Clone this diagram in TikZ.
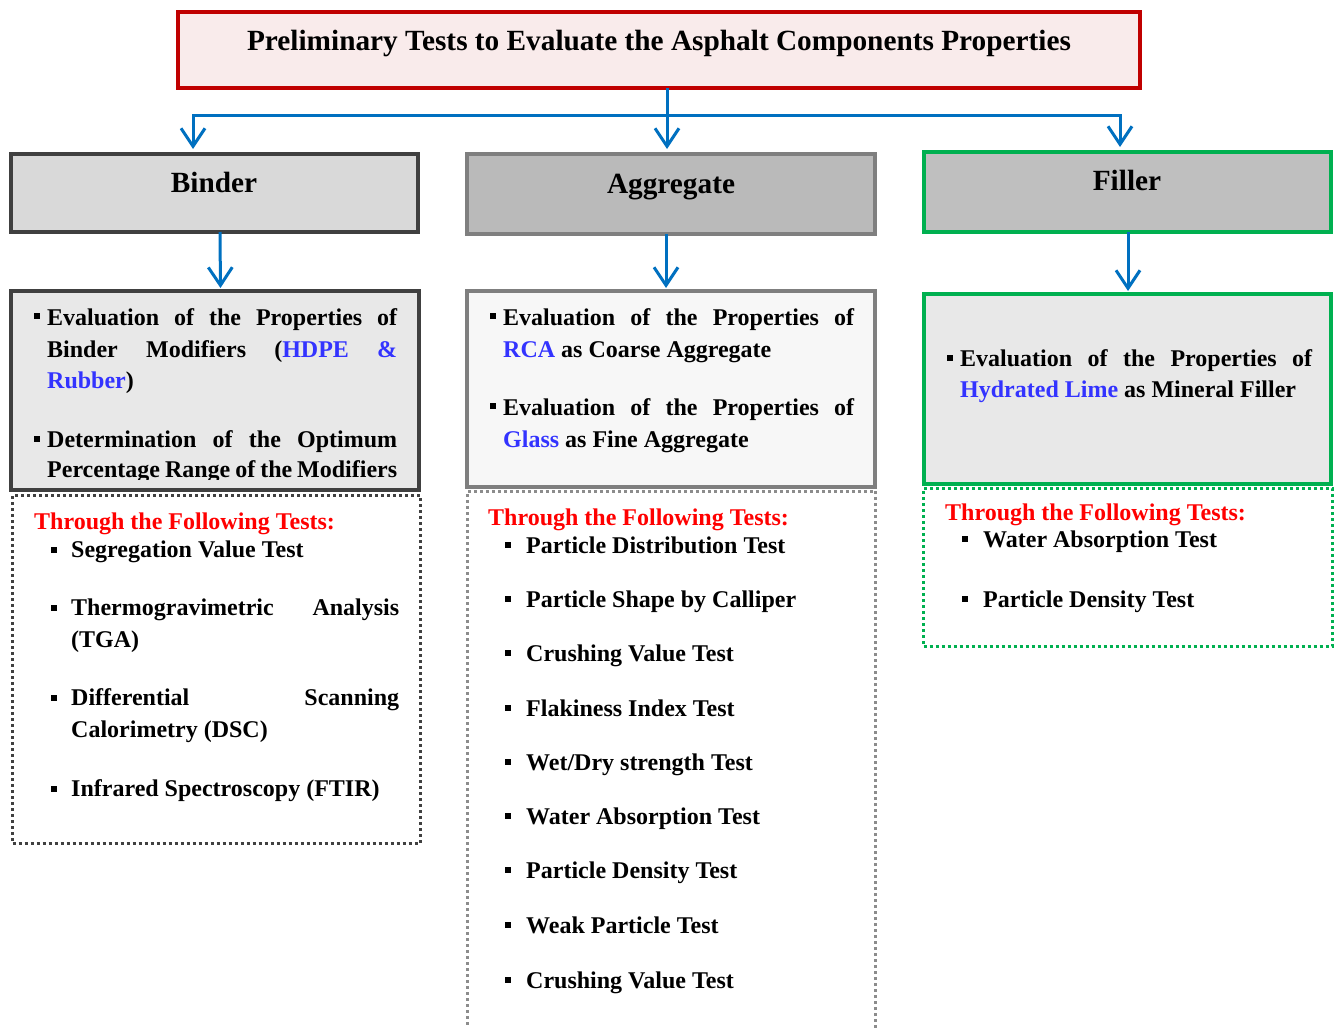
\documentclass[tikz,border=0pt]{standalone}
\usepackage{fontspec}
\setmainfont{Liberation Serif}
\usetikzlibrary{arrows.meta}

\definecolor{titlered}{HTML}{C00000}
\definecolor{titlefill}{HTML}{F9EBEB}
\definecolor{linkblue}{HTML}{0070C0}
\definecolor{darkedge}{HTML}{404040}
\definecolor{midedge}{HTML}{7F7F7F}
\definecolor{dotgray}{HTML}{8C8C8C}
\definecolor{greenedge}{HTML}{00B050}
\definecolor{hlblue}{RGB}{51,51,255}
\definecolor{redhead}{HTML}{FF0000}

\newcommand\hdfont{\bfseries\fontsize{29.3}{34}\selectfont}
\newcommand\bdfont{\bfseries\fontsize{24}{28}\selectfont}
\newcommand\hlc[1]{\textcolor{hlblue}{#1}}

\begin{document}
\begin{tikzpicture}[x=1pt,y=-1pt,
  frame/.style={draw, line width=4pt, inner sep=0pt, outer sep=0pt, anchor=north west},
  dotbox/.style={draw, line width=3pt, dash pattern=on 3pt off 3pt, inner sep=0pt, outer sep=0pt, anchor=north west},
  link/.style={draw=linkblue, line width=3pt},
  arr/.style={link, -{Straight Barb[length=18pt,width=24pt]}},
  head/.style={anchor=base, inner sep=0pt, font=\hdfont},
  body/.style={anchor=base west, inner sep=0pt, font=\bdfont},
  tests/.style={body, text=redhead},
  sq/.pic={\fill (-3,-3) rectangle (3,3);}
]
\useasboundingbox (0,0) rectangle (1334,1028);

% ---- dotted frames holding the test lists
\node[dotbox, draw=darkedge, minimum width=407.5pt, minimum height=348pt] (bdot) at (12.5,495) {};
\node[dotbox, draw=dotgray, minimum width=408pt, minimum height=549pt] (adot) at (467.5,491) {};
\node[dotbox, draw=greenedge, minimum width=408.5pt, minimum height=158pt] (fdot) at (923.5,488) {};

% ---- detail boxes
\node[frame, draw=darkedge, fill=black!9, minimum width=408pt, minimum height=199pt] (bdet) at (11,291) {};
\node[frame, draw=midedge, fill=black!3, minimum width=408pt, minimum height=196pt] (adet) at (467,291) {};
\node[frame, draw=greenedge, fill=black!9, minimum width=407pt, minimum height=190pt] (fdet) at (924,294) {};

% ---- title and component boxes
\node[frame, draw=titlered, fill=titlefill, minimum width=962pt, minimum height=76pt] (title) at (178,12) {};
\node[frame, draw=darkedge, fill=black!15, minimum width=407pt, minimum height=78pt] (binder) at (11,154) {};
\node[frame, draw=midedge, fill=black!27, minimum width=408pt, minimum height=80pt] (agg) at (467,154) {};
\node[frame, draw=greenedge, fill=black!25, minimum width=407pt, minimum height=80pt] (filler) at (924,152) {};

\node[head] (ttl) at (659,50) {Preliminary Tests to Evaluate the Asphalt Components Properties};
\node[head] (tb) at (214,192) {Binder};
\node[head] (ta) at (671,193) {Aggregate};
\node[head] (tf) at (1127,190) {Filler};

% ---- connectors
\coordinate (hub) at (667,115);
\draw[arr, shorten >=5pt] (title.south -| hub) -- (hub |- agg.north);
\draw[arr, shorten >=5pt] (hub) -| ([xshift=-21.5pt]binder.north);
\draw[arr, shorten >=5pt] (hub) -| ([xshift=-7.5pt]filler.north);
\draw[arr, shorten >=3pt] ([xshift=5.5pt]binder.south) -- ([xshift=5.5pt]bdet.north);
\draw[arr, shorten >=3pt] ([xshift=-5pt]agg.south) -- ([xshift=-5pt]adet.north);
\draw[arr, shorten >=3pt] ([xshift=0.5pt]filler.south) -- ([xshift=0.5pt]fdet.north);

% ---- binder column
\pic at (37,316) {sq};
\node[body] (b1) at (47,325) {\makebox[350pt][s]{Evaluation of the Properties of}};
\node[body] (b2) at (47,357) {\makebox[350pt][s]{Binder Modifiers (\hlc{HDPE} \hlc{\&}}};
\node[body] (b3) at (47,388) {\hlc{Rubber})};
\pic at (37,439) {sq};
\node[body] (b4) at (47,447) {\makebox[350pt][s]{Determination of the Optimum}};
\begin{scope}
  \clip (13,293) rectangle (417,479);
  \node[body] (b5) at (47,477) {\makebox[350pt][s]{Percentage Range of the Modifiers}};
\end{scope}

\node[tests] (bt) at (34,529) {Through the Following Tests:};
\pic at (54,550) {sq};
\node[body] (bt1) at (71,557) {Segregation Value Test};
\pic at (54,608) {sq};
\node[body] (bt2) at (71,615) {\makebox[328pt][s]{Thermogravimetric Analysis}};
\node[body] (bt2b) at (71,647) {(TGA)};
\pic at (54,698) {sq};
\node[body] (bt3) at (71,705) {\makebox[328pt][s]{Differential Scanning}};
\node[body] (bt3b) at (71,737) {Calorimetry (DSC)};
\pic at (54,789) {sq};
\node[body] (bt4) at (71,796) {Infrared Spectroscopy (FTIR)};

% ---- aggregate column
\pic at (493,316) {sq};
\node[body] (a1) at (503,325) {\makebox[351pt][s]{Evaluation of the Properties of}};
\node[body] (a2) at (503,357) {\hlc{RCA} as Coarse Aggregate};
\pic at (493,406) {sq};
\node[body] (a3) at (503,415) {\makebox[351pt][s]{Evaluation of the Properties of}};
\node[body] (a4) at (503,447) {\hlc{Glass} as Fine Aggregate};

\node[tests] (at) at (488,525) {Through the Following Tests:};
\foreach \yy/\lbl [count=\i] in {553/{Particle Distribution Test}, 607/{Particle Shape by Calliper},
    661/{Crushing Value Test}, 716/{Flakiness Index Test}, 770/{Wet/Dry strength Test},
    824/{Water Absorption Test}, 878/{Particle Density Test}, 933/{Weak Particle Test},
    988/{Crushing Value Test}}{
  \pic at (508,\yy-8) {sq};
  \node[body] (at\i) at (526,\yy) {\lbl};
}

% ---- filler column
\pic at (950,358) {sq};
\node[body] (f1) at (960,366) {\makebox[352pt][s]{Evaluation of the Properties of}};
\node[body] (f2) at (960,397) {\hlc{Hydrated Lime} as Mineral Filler};

\node[tests] (ft) at (945,520) {Through the Following Tests:};
\pic at (965,539) {sq};
\node[body] (ft1) at (983,547) {Water Absorption Test};
\pic at (965,599) {sq};
\node[body] (ft2) at (983,607) {Particle Density Test};
\end{tikzpicture}
\end{document}
